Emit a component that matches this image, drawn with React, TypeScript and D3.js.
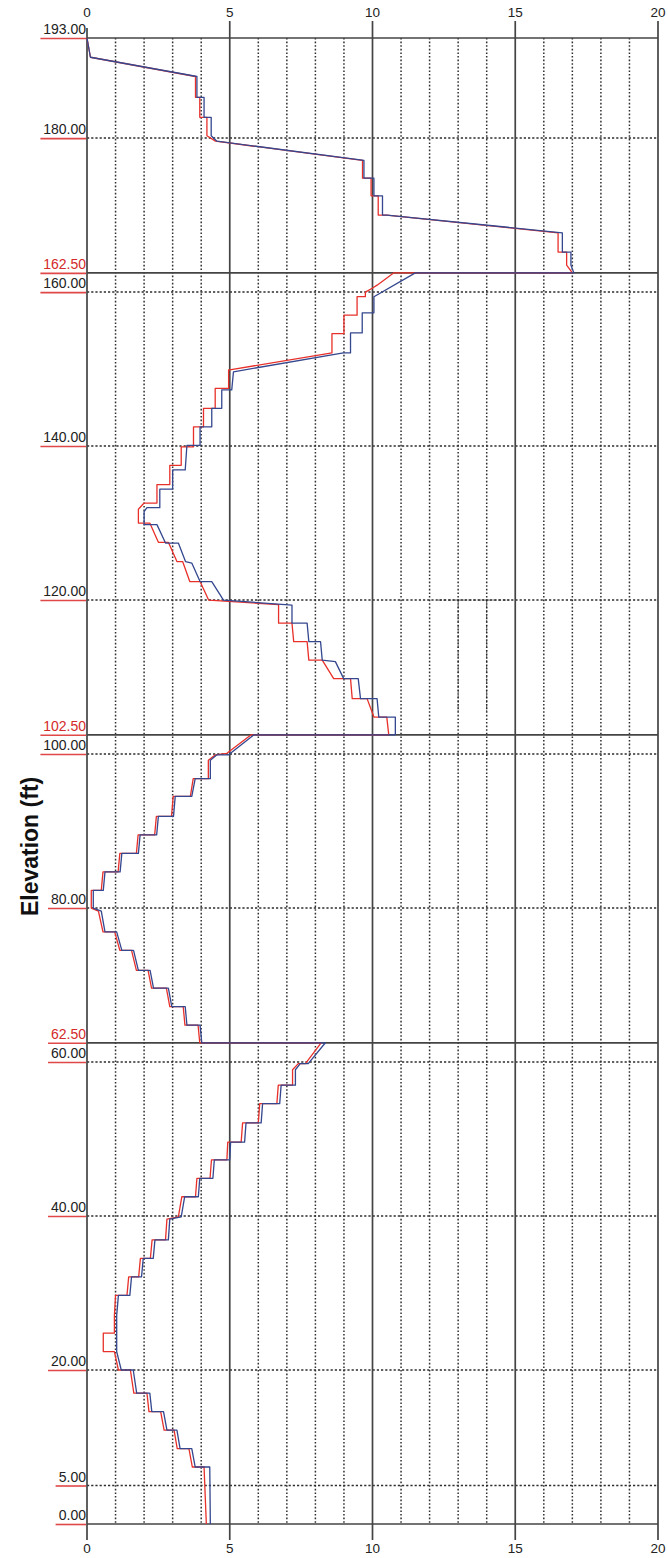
import React from 'react';
import * as d3 from 'd3';

// x axis (top and bottom)
const xTicks = [0, 5, 10, 15, 20];
const xMinor = [1, 2, 3, 4, 6, 7, 8, 9, 11, 12, 13, 14, 16, 17, 18, 19];

// elevations (ft)
const layerBounds = [193, 162.5, 102.5, 62.5, 0];
const gridElev = [180, 160, 140, 120, 100, 80, 60, 40, 20, 5];
const elevLabels = [193, 180, 162.5, 160, 140, 120, 102.5, 100, 80, 62.5, 60, 40, 20, 5, 0];
const redLabels = [162.5, 102.5, 62.5];

// profile: [value, elevation]
const blueProfile: [number, number][] = [
  [0, 193], [0.12, 190.5], [3.85, 188.0], [3.85, 185.3], [4.1, 185.3], [4.1, 182.7], [4.35, 182.7],
  [4.35, 180.3], [4.55, 179.6], [9.7, 177.1], [9.7, 174.8], [10.05, 174.8], [10.05, 172.5],
  [10.35, 172.5], [10.35, 170.0], [10.5, 170.0], [16.65, 167.7], [16.65, 165.2], [16.95, 165.2],
  [16.95, 163.5], [17.05, 162.5],
  [11.5, 162.5], [10.05, 159.4], [10.05, 157.3], [9.64, 157.3], [9.64, 154.7], [9.23, 154.7],
  [9.23, 152.1], [8.98, 152.1], [5.13, 149.65], [5.07, 147.3], [4.72, 147.3], [4.72, 144.9],
  [4.37, 144.9], [4.37, 142.5], [3.96, 142.5], [3.96, 140.1], [3.5, 140.1], [3.44, 136.9],
  [3.0, 136.9], [3.0, 134.4], [2.55, 134.4], [2.55, 132.0], [2.1, 132.0], [2.0, 131.5],
  [2.0, 129.8], [2.45, 129.8], [2.75, 127.4], [3.2, 127.4], [3.45, 125.0], [3.67, 124.8],
  [3.96, 122.4], [4.37, 122.4], [4.78, 120.0], [7.18, 119.35], [7.18, 117.0], [7.71, 117.0],
  [7.77, 114.6], [8.18, 114.6], [8.24, 112.2], [8.7, 112.0], [8.99, 109.8], [9.5, 109.8],
  [9.58, 107.2], [10.16, 107.2], [10.22, 104.8], [10.8, 104.8], [10.8, 102.5],
  [5.85, 102.5], [4.96, 99.9], [4.55, 99.9], [4.32, 99.2], [4.32, 96.8], [3.79, 96.8],
  [3.67, 94.5], [3.09, 94.5], [3.03, 91.9], [2.5, 91.9], [2.44, 89.5], [1.86, 89.5],
  [1.8, 87.1], [1.22, 87.1], [1.16, 84.7], [0.63, 84.7], [0.57, 82.3], [0.22, 82.3],
  [0.22, 80.0], [0.5, 79.6], [0.63, 76.9], [1.04, 76.9], [1.22, 74.5], [1.63, 74.5],
  [1.8, 71.9], [2.21, 71.9], [2.33, 69.6], [2.85, 69.6], [2.97, 67.2], [3.44, 67.2],
  [3.5, 64.8], [3.96, 64.8], [4.02, 62.5],
  [8.35, 62.5], [7.75, 59.8], [7.47, 59.8], [7.3, 59.0], [7.3, 57.0], [6.8, 57.0],
  [6.75, 54.6], [6.15, 54.6], [6.1, 52.1], [5.57, 52.1], [5.52, 49.6], [5.03, 49.6],
  [5.0, 47.3], [4.46, 47.3], [4.41, 44.9], [3.95, 44.9], [3.9, 42.5], [3.42, 42.5],
  [3.3, 39.9], [2.9, 39.6], [2.85, 36.9], [2.38, 36.9], [2.32, 34.5], [1.97, 34.5],
  [1.91, 32.1], [1.56, 32.1], [1.5, 29.7], [1.1, 29.7], [1.04, 27.1], [1.04, 22.4],
  [1.2, 20.0], [1.62, 20.0], [1.74, 17.0], [2.2, 17.0], [2.27, 14.6], [2.68, 14.6],
  [2.8, 12.2], [3.15, 12.2], [3.26, 9.8], [3.67, 9.8], [3.79, 7.4], [4.3, 7.4], [4.32, 0],
];

const redProfile: [number, number][] = [
  [0, 193], [0.12, 190.5], [3.8, 188.0], [3.8, 185.3], [3.95, 185.3], [3.95, 182.7], [4.2, 182.7],
  [4.2, 180.3], [4.5, 179.6], [9.65, 177.1], [9.65, 174.8], [9.95, 174.8], [9.95, 172.5],
  [10.2, 172.5], [10.2, 170.0], [10.5, 170.0], [16.5, 167.7], [16.5, 165.2], [16.8, 165.2],
  [16.8, 163.5], [17.0, 162.5],
  [10.75, 162.5], [10.16, 160.9], [9.99, 160.5], [9.75, 160.0], [9.75, 159.4], [9.46, 159.4],
  [9.46, 157.0], [9.0, 157.0], [9.0, 154.6], [8.58, 154.6], [8.58, 152.1], [5.0, 149.9],
  [4.96, 149.9], [4.96, 147.5], [4.49, 147.5], [4.49, 144.9], [4.08, 144.9], [4.08, 142.5],
  [3.73, 142.5], [3.73, 139.9], [3.3, 139.9], [3.3, 137.5], [2.9, 137.5], [2.9, 135.0],
  [2.45, 135.0], [2.45, 132.6], [2.0, 132.6], [1.8, 131.8], [1.8, 130.0], [2.2, 130.0],
  [2.5, 127.5], [2.85, 127.5], [3.15, 125.0], [3.35, 125.0], [3.6, 122.4], [3.96, 122.4],
  [4.26, 120.0], [6.71, 119.4], [6.71, 117.0], [7.18, 117.0], [7.24, 114.6], [7.71, 114.6],
  [7.77, 112.2], [8.24, 112.2], [8.64, 109.8], [9.23, 109.8], [9.29, 107.2], [9.81, 107.2],
  [10.05, 104.8], [10.5, 104.8], [10.57, 102.5],
  [5.75, 102.5], [4.9, 100.1], [4.5, 99.9], [4.25, 99.2], [4.25, 96.8], [3.72, 96.8],
  [3.62, 94.5], [3.02, 94.5], [2.96, 91.9], [2.43, 91.9], [2.37, 89.5], [1.79, 89.5],
  [1.73, 87.1], [1.15, 87.1], [1.09, 84.7], [0.56, 84.7], [0.5, 82.3], [0.15, 82.3],
  [0.15, 80.0], [0.4, 79.6], [0.56, 76.9], [0.97, 76.9], [1.15, 74.5], [1.56, 74.5],
  [1.73, 71.9], [2.14, 71.9], [2.26, 69.6], [2.78, 69.6], [2.9, 67.2], [3.37, 67.2],
  [3.43, 64.8], [3.89, 64.8], [3.95, 62.5],
  [8.2, 62.5], [7.65, 59.8], [7.4, 59.8], [7.2, 59.0], [7.2, 57.0], [6.7, 57.0],
  [6.65, 54.6], [6.05, 54.6], [6.0, 52.1], [5.45, 52.1], [5.4, 49.6], [4.93, 49.6],
  [4.9, 47.3], [4.36, 47.3], [4.31, 44.9], [3.85, 44.9], [3.8, 42.5], [3.32, 42.5],
  [3.2, 39.9], [2.8, 39.6], [2.75, 36.9], [2.28, 36.9], [2.22, 34.5], [1.87, 34.5],
  [1.81, 32.1], [1.46, 32.1], [1.4, 29.7], [1.0, 29.7], [0.96, 27.1], [0.96, 24.8],
  [0.57, 24.8], [0.57, 22.4], [0.96, 22.4], [1.1, 20.0], [1.52, 20.0], [1.64, 17.0],
  [2.1, 17.0], [2.17, 14.6], [2.58, 14.6], [2.7, 12.2], [3.05, 12.2], [3.16, 9.8],
  [3.57, 9.8], [3.69, 7.4], [4.1, 7.4], [4.18, 0],
];

// stray dashed marks in the drawing (value, elevation)
const strayVerticals = [13, 14];
const strayTop = 120;
const strayBottom = 105.5;
const strayHoriz: [number, number] = [12.3, 14.8];

const W = 668;
const H = 1558;
const FONT = 'Arial, "Liberation Sans", sans-serif';

const App = () => {
  const x = d3.scaleLinear().domain([0, 20]).range([87, 658]);
  const y = d3.scaleLinear().domain([0, 193]).range([1524, 38]);

  const line = d3.line<[number, number]>()
    .x(d => x(d[0]))
    .y(d => y(d[1]));

  const x0 = x(0);
  const x1 = x(20);
  const yTop = y(193);
  const yBot = y(0);

  return (
    <svg width={W} height={H} style={{ position: 'absolute', left: 0, top: 0, display: 'block', background: '#fff' }}>
      {/* minor dotted verticals */}
      {xMinor.map(v => (
        <line key={'mv' + v} x1={x(v)} x2={x(v)} y1={yTop} y2={yBot}
          stroke="#2e2e2e" strokeWidth={1.5} strokeDasharray="1.6,2" />
      ))}
      {/* dotted horizontals */}
      {gridElev.map(e => (
        <line key={'gh' + e} x1={x0} x2={x1} y1={y(e)} y2={y(e)}
          stroke="#2e2e2e" strokeWidth={1.5} strokeDasharray="2.2,2" />
      ))}
      {/* stray dashed marks */}
      {strayVerticals.map(v => (
        <line key={'sv' + v} x1={x(v)} x2={x(v)} y1={y(strayTop)} y2={y(strayBottom)}
          stroke="#222" strokeWidth={0.8} strokeDasharray="3,2" />
      ))}
      <line x1={x(strayHoriz[0])} x2={x(strayHoriz[1])} y1={y(strayTop)} y2={y(strayTop)}
        stroke="#222" strokeWidth={0.8} strokeDasharray="3,2" />

      {/* solid layer boundaries */}
      {layerBounds.map(e => (
        <line key={'lb' + e} x1={x0} x2={x1} y1={y(e)} y2={y(e)} stroke="#444" strokeWidth={1.7} />
      ))}
      {/* major verticals with ticks beyond frame */}
      {xTicks.map(v => (
        <line key={'xv' + v} x1={x(v)} x2={x(v)} y1={v === 0 ? 28 : 21} y2={1540}
          stroke="#444" strokeWidth={1.7} />
      ))}

      {/* x tick labels */}
      {xTicks.map(v => (
        <g key={'xl' + v}>
          <text x={x(v)} y={17} textAnchor="middle" fontFamily={FONT} fontSize={13.5} fill="#222">{v}</text>
          <text x={x(v)} y={1553} textAnchor="middle" fontFamily={FONT} fontSize={13.5} fill="#222">{v}</text>
        </g>
      ))}

      {/* elevation labels with red underline */}
      {elevLabels.map(e => {
        const txt = e.toFixed(2);
        const w = txt.length * 7.6;
        return (
          <g key={'el' + e}>
            <line x1={x0 - 1 - w} x2={x0 - 1} y1={y(e) + 0.5} y2={y(e) + 0.5} stroke="#e04848" strokeWidth={1.6} />
            <text x={x0 - 1} y={y(e) - 4} textAnchor="end" fontFamily={FONT} fontSize={14}
              fill={redLabels.includes(e) ? '#d42a2a' : '#222'}>{txt}</text>
          </g>
        );
      })}

      {/* profiles */}
      <path d={line(redProfile) || ''} fill="none" stroke="#e8302a" strokeWidth={1.3} strokeLinejoin="round" />
      <path d={line(blueProfile) || ''} fill="none" stroke="#34478f" strokeWidth={1.3} strokeLinejoin="round" />

      {/* axis title */}
      <text transform={`translate(38, ${y(88)}) rotate(-90)`} textAnchor="middle"
        fontFamily={FONT} fontSize={23} fontWeight="bold" fill="#111">Elevation (ft)</text>
    </svg>
  );
};

export default App;
